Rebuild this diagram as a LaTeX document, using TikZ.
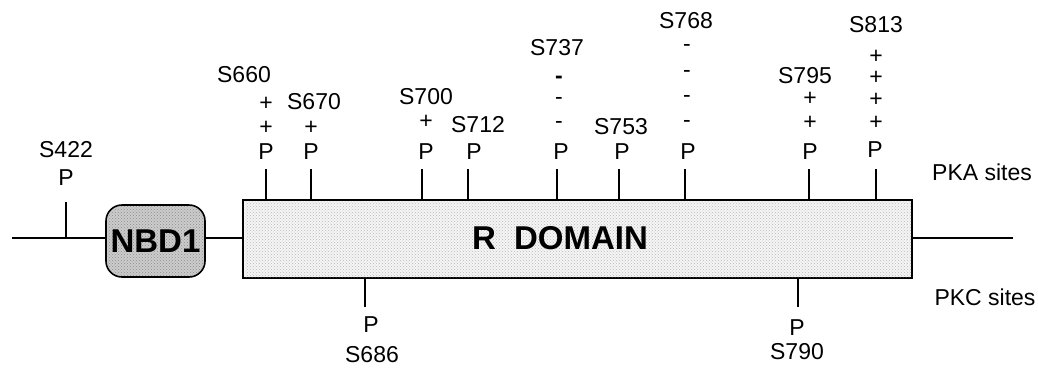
\documentclass[tikz,border=0pt]{standalone}
\usepackage{fontspec}
\setmainfont{Liberation Sans}
\usetikzlibrary{patterns}
\begin{document}
\begin{tikzpicture}[x=1pt,y=-1pt,
  lbl/.style={inner sep=0pt,font=\fontsize{23}{25}\selectfont},
  sgn/.style={inner sep=0pt,font=\fontsize{23}{25}\selectfont},
  tick/.style={line width=1.3pt},
  bb/.style={line width=1.6pt},
  big/.style={inner sep=0pt,font=\fontsize{33}{36}\selectfont\bfseries}]
\useasboundingbox (0,0) rectangle (1038,367);
% boxes
\node[bb,draw,rounded corners=16pt,minimum width=99pt,minimum height=72pt,
      fill=gray!40,inner sep=0pt] (nbd) at (155.5,241) {};
\fill[pattern=crosshatch dots,pattern color=gray!90,rounded corners=16pt] (107,206) rectangle (204,276);
\node[big] (nbdt) at (nbd.center) {NBD1};
\node[bb,draw,minimum width=669pt,minimum height=78pt,fill=gray!8,inner sep=0pt] (rdom) at (577.5,239) {};
\fill[pattern=crosshatch dots,pattern color=gray!55] (245,201) rectangle (911,277);
\node[big] (rdt) at (560,238) {R\hspace{0.55em}DOMAIN};
\coordinate (lend) at (12,238);
\coordinate (rend) at (1013,238);
\draw[bb] (lend) -- (lend -| nbd.west);
\draw[bb] (nbd.east |- 0,238) -- (rdom.west |- 0,238);
\draw[bb] (rdom.east |- 0,238) -- (rend);
% S422
\node[lbl] (p422) at (66,178) {P};
\node[lbl] (s422) at (66,150) {S422};
\draw[tick] (p422.south |- lend) -- ++(0,-36);
% PKA sites
\node[lbl] (p660) at (266,152) {P};
\node[sgn] (a660) at (266,128) {+};
\node[sgn] (b660) at (266,104) {+};
\node[lbl] (s660) at (244,75) {S660};
\node[lbl] (p670) at (311,152) {P};
\node[sgn] (a670) at (311,128) {+};
\node[lbl] (s670) at (314,102) {S670};
\node[lbl] (p700) at (426,152) {P};
\node[sgn] (a700) at (426,122) {+};
\node[lbl] (s700) at (426,97) {S700};
\node[lbl] (p712) at (474,152) {P};
\node[lbl] (s712) at (478,125) {S712};
\node[lbl] (p737) at (561,152) {P};
\node[sgn] (a737) at (559,125) {-};
\node[sgn] (b737) at (559,101) {-};
\node[sgn] (c737) at (559,80) {\textbf{-}};
\node[lbl] (s737) at (557,48) {S737};
\node[lbl] (p753) at (622,152) {P};
\node[lbl] (s753) at (621,127) {S753};
\node[lbl] (p768) at (688,152) {P};
\node[sgn] (a768) at (687,124) {-};
\node[sgn] (b768) at (687,99) {-};
\node[sgn] (c768) at (687,74) {-};
\node[sgn] (d768) at (687,48) {-};
\node[lbl] (s768) at (686,21) {S768};
\node[lbl] (p795) at (810,152) {P};
\node[sgn] (a795) at (810,123) {+};
\node[sgn] (b795) at (810,99) {+};
\node[lbl] (s795) at (805,76) {S795};
\node[lbl] (p813) at (875,150) {P};
\node[sgn] (a813) at (876,123) {+};
\node[sgn] (b813) at (876,100) {+};
\node[sgn] (c813) at (876,78) {+};
\node[sgn] (d813) at (876,57) {+};
\node[lbl] (s813) at (876,25) {S813};
\foreach \t/\x in {660/266,670/311,700/422,712/468,737/557,753/619,768/685,795/809,813/876}
  \draw[tick] (\x,0 |- rdom.north) -- ++(0,-30);
\node[lbl] (pka) at (982,172) {PKA sites};
% PKC sites
\node[lbl] (p686) at (371,325) {P};
\node[lbl] (s686) at (372,355) {S686};
\draw[tick] (365,0 |- rdom.south) -- ++(0,28);
\node[lbl] (p790) at (797,328) {P};
\node[lbl] (s790) at (797,352) {S790};
\draw[tick] (798,0 |- rdom.south) -- ++(0,28);
\node[lbl] (pkc) at (985,297) {PKC sites};
\end{tikzpicture}
\end{document}
